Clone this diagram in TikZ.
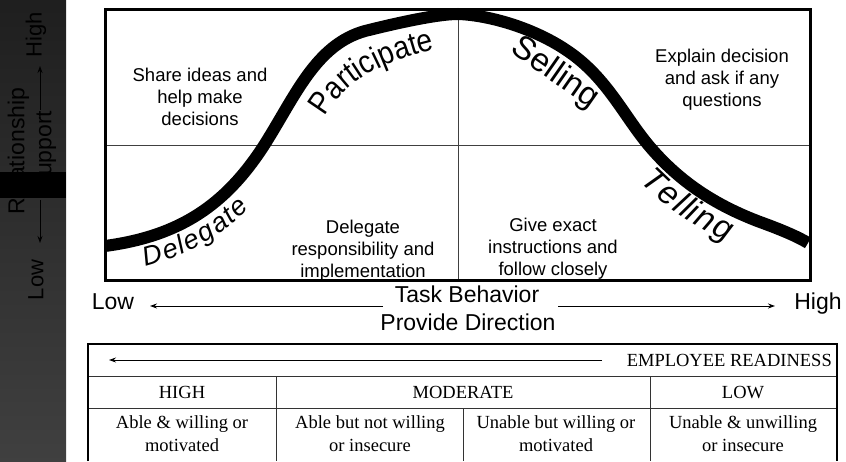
\documentclass[tikz,border=0pt]{standalone}
\usepackage{fontspec}
\setmainfont{Liberation Sans}
\newfontfamily\tablefont{Liberation Serif}
\newfontfamily\narrowfont[FakeStretch=0.88]{Liberation Sans}
\usetikzlibrary{arrows.meta,decorations.text}

\tikzset{
  quadtext/.style={align=center, inner sep=0pt, font=\fontsize{18.5}{22}\selectfont},
  tabtext/.style={align=center, inner sep=0pt, font=\tablefont\fontsize{18.5}{23}\selectfont},
  axistext/.style={inner sep=0pt, font=\fontsize{23}{28}\selectfont},
  striptext/.style={rotate=90, inner sep=0pt, align=center, font=\fontsize{23}{27}\selectfont},
  thinarrow/.style={line width=0.9pt, -{Stealth[length=7pt,width=5pt]}},
  tabline/.style={line width=0.8pt, color=black!80},
}

\begin{document}
\begin{tikzpicture}[x=1pt, y=1pt]
			%%%%% START %%%%%
			\useasboundingbox (0,0) rectangle (846,461);
			
			% dark strip on the left
			\shade[top color=black!88, bottom color=black!75] (0,0) rectangle (66,461);
			\fill[black] (0,263) rectangle (66,289);
			\node[striptext] (rel) at (32,310) {Relationship\\Support};
			\node[striptext, font=\fontsize{22}{26}\selectfont] (highy) at (36,426) {High};
			\node[striptext, font=\fontsize{22}{26}\selectfont] (lowy) at (36,181) {Low};
			\coordinate (upa) at (40,351);
			\coordinate (upb) at (40,395);
			\coordinate (dna) at (40,261);
			\coordinate (dnb) at (40,218);
			\draw[thinarrow] (upa) -- (upb);
			\draw[thinarrow] (dna) -- (dnb);
			
			% quadrants
			\draw[line width=1pt, color=black!75] (458,180) -- (458,451);
			\draw[line width=1pt, color=black!75] (105,315) -- (810,315);
			
			\node[quadtext] (share) at (200,364) {Share ideas and\\help make\\decisions};
			\node[quadtext] (deleg) at (363,210) {Delegate\\responsibility and\\implementation};
			\node[quadtext] (expl) at (722,381) {Explain decision\\and ask if any\\questions};
			\node[quadtext] (give) at (553,212) {Give exact\\instructions and\\follow closely};
			
			% the curve
			\draw[line width=12pt] (105,215) .. controls (180,225) and (225,256) .. (263,314)
			  .. controls (295,364) and (315,416) .. (365,430)
			  .. controls (405,440) and (440,447) .. (458,447)
			  .. controls (490,446) and (545,431) .. (582,399)
			  .. controls (612,373) and (627,341) .. (650,314)
			  .. controls (680,279) and (715,256) .. (760,239)
			  .. controls (785,230) and (800,223) .. (808,218);
			
			% labels on the curve
			\path[decorate, decoration={text along path, raise=-28pt, text align={left indent=33pt},
			  text={|\itshape\fontsize{27}{27}\selectfont|Delegate}}]
			  (105,215) .. controls (180,225) and (225,256) .. (263,314);
			\path[decorate, decoration={text along path,
			  text={|\narrowfont\fontsize{32}{32}\selectfont|Participate}}]
			  (325,344) .. controls (343,375) and (372,398) .. (444,414);
			\path[decorate, decoration={text along path,
			  text={|\fontsize{33}{33}\selectfont|Selling}}]
			  (509,409) .. controls (538,389) and (568,368) .. (598,347);
			\path[decorate, decoration={text along path, raise=-31pt, text align={left indent=16pt},
			  text={|\itshape\fontsize{33}{33}\selectfont|Telling}}]
			  (650,314) .. controls (680,279) and (715,256) .. (760,239)
			  .. controls (785,230) and (800,223) .. (808,218);
			
			\draw[line width=3pt] (105,180) rectangle (810,451);
			
			% task behavior axis
			\node[axistext, anchor=base] (lowx) at (113,151) {Low};
			\node[axistext, anchor=base] (highx) at (818,151) {High};
			\node[axistext, anchor=base] (taskb) at (467,159) {Task Behavior};
			\node[axistext, anchor=base] (provd) at (468,131) {Provide Direction};
			\coordinate (lxa) at (383,155);
			\coordinate (lxb) at (150,155);
			\coordinate (rxa) at (558,155);
			\coordinate (rxb) at (775,155);
			\draw[thinarrow] (lxa) -- (lxb);
			\draw[thinarrow] (rxa) -- (rxb);
			
			% readiness table
			\draw[tabline] (88,85) -- (837,85);
			\draw[tabline] (88,53) -- (837,53);
			\draw[tabline] (276,85) -- (276,0);
			\draw[tabline] (463,53) -- (463,0);
			\draw[tabline] (650,85) -- (650,0);
			\draw[line width=2pt] (88,0) -- (88,117) -- (837,117) -- (837,0);
			
			\node[tabtext, anchor=base east] (ready) at (832,95) {EMPLOYEE READINESS};
			\coordinate (ra) at (602,101);
			\coordinate (rb) at (109,101);
			\draw[thinarrow] (ra) -- (rb);
			
			\node[tabtext, anchor=base] (hi) at (182,63) {HIGH};
			\node[tabtext, anchor=base] (mod) at (463,63) {MODERATE};
			\node[tabtext, anchor=base] (lo) at (743,63) {LOW};
			
			\node[tabtext] (c1) at (182,27) {Able \& willing or\\motivated};
			\node[tabtext] (c2) at (370,27) {Able but not willing\\or insecure};
			\node[tabtext] (c3) at (556,27) {Unable but willing or\\motivated};
			\node[tabtext] (c4) at (743,27) {Unable \& unwilling\\or insecure};
			%%%%% END %%%%%
\end{tikzpicture}
\end{document}
